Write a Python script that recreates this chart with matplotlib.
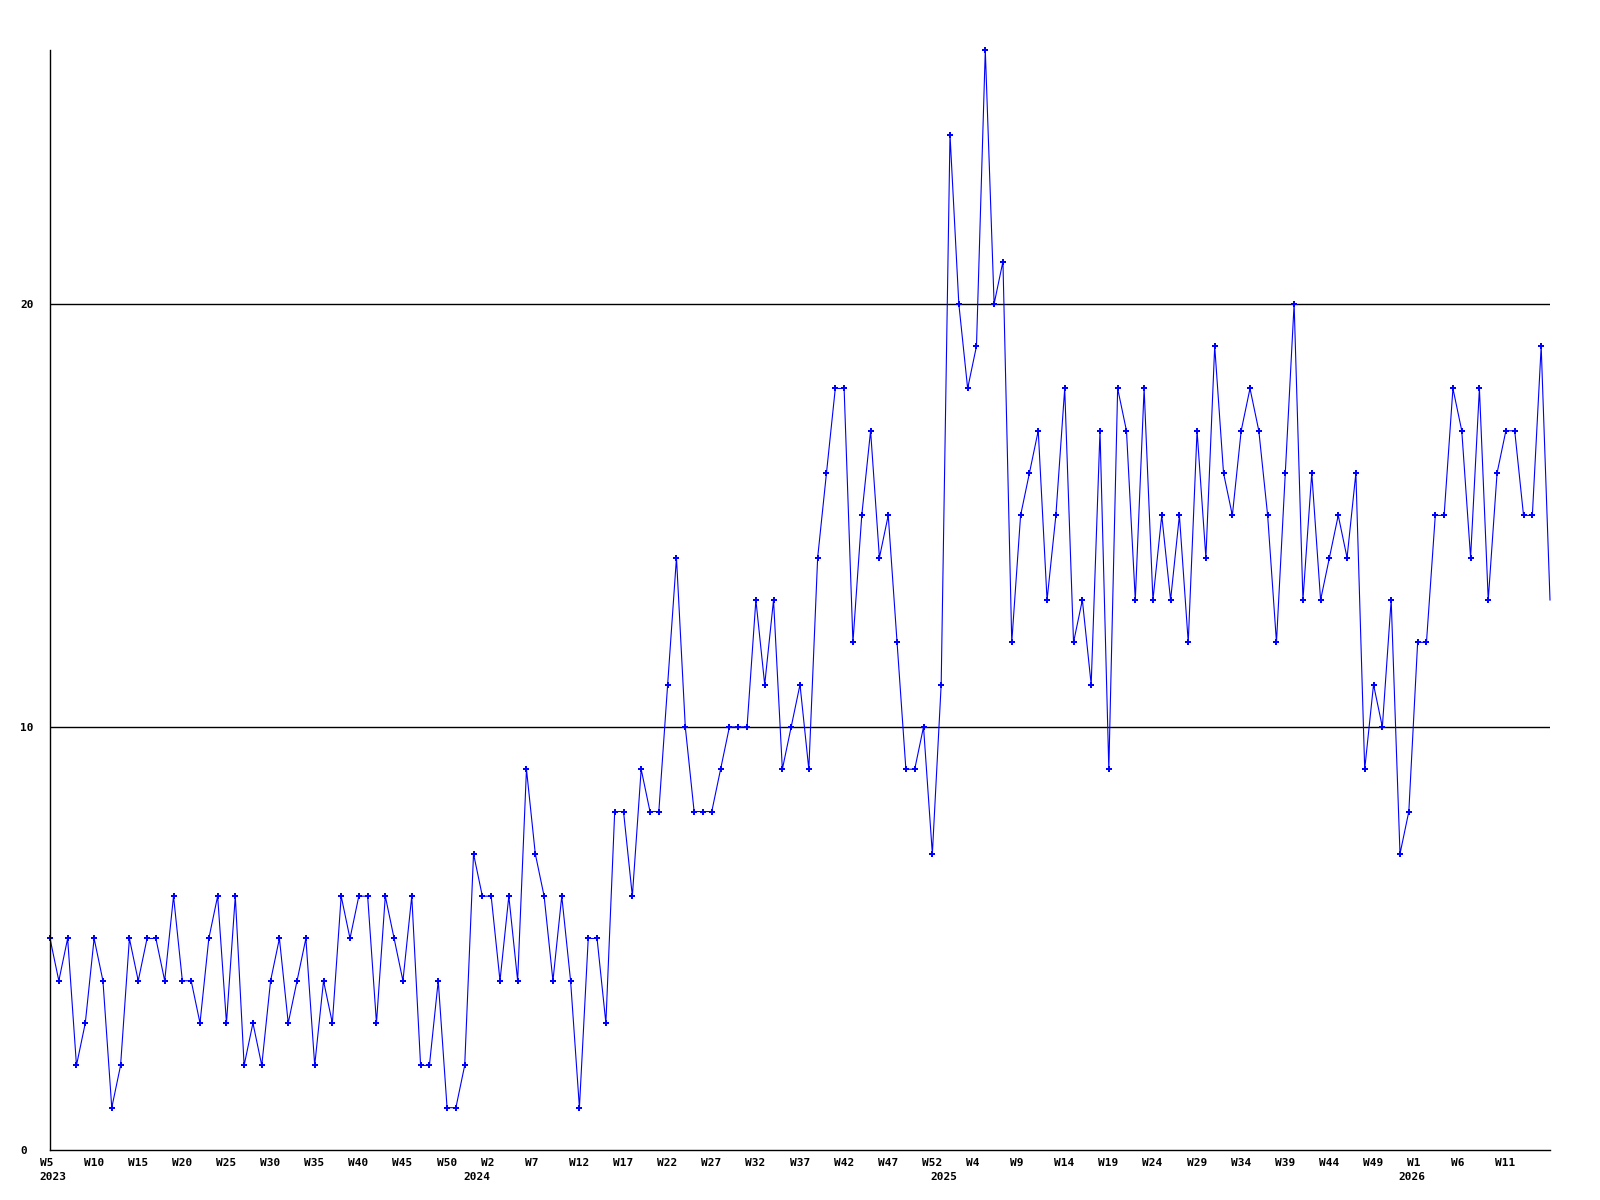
import matplotlib.pyplot as plt
import matplotlib.transforms as mtransforms

# weekly counts, 2023 W5 .. 2026 W16
values = [
    5, 4, 5, 2, 3, 5, 4, 1, 2, 5, 4, 5, 5, 4, 6, 4, 4, 3, 5, 6, 3, 6, 2, 3, 2, 4, 5, 3, 4, 5, 2, 4,
    3, 6, 5, 6, 6, 3, 6, 5, 4, 6, 2, 2, 4, 1, 1, 2, 7, 6, 6, 4, 6, 4, 9, 7, 6, 4, 6, 4, 1, 5, 5,
    3, 8, 8, 6, 9, 8, 8, 11, 14, 10, 8, 8, 8, 9, 10, 10, 10, 13, 11, 13, 9, 10, 11, 9, 14,
    16, 18,
    18, 12, 15, 17, 14, 15, 12, 9, 9, 10, 7, 11, 24, 20, 18, 19, 26, 20, 21, 12, 15, 16, 17, 13,
    15, 18, 12, 13, 11, 17,
    9, 18, 17, 13, 18, 13, 15, 13, 15, 12, 17, 14, 19, 16, 15, 17, 18, 17, 15, 12, 16, 20, 13,
    16, 13, 14, 15, 14, 16,
    9, 11, 10, 13, 7, 8, 12, 12, 15, 15, 18, 17, 14, 18, 13, 16, 17, 17, 15, 15, 19, 13,
]

week_labels = ['W5', 'W10', 'W15', 'W20', 'W25', 'W30', 'W35', 'W40', 'W45', 'W50',
               'W2', 'W7', 'W12', 'W17', 'W22', 'W27', 'W32', 'W37', 'W42', 'W47',
               'W52', 'W4', 'W9', 'W14', 'W19', 'W24', 'W29', 'W34', 'W39', 'W44',
               'W49', 'W1', 'W6', 'W11']
years = ['2023', '2024', '2025', '2026']
year_pos = [0, 48, 101, 154]

x = list(range(len(values)))
font = dict(family='DejaVu Sans Mono', weight='bold', size=8)

fig = plt.figure(figsize=(16, 12), dpi=100)
ax = fig.add_axes([50 / 1600, 50 / 1200, 1500 / 1600, 1100 / 1200])

ax.plot(x, values, color='#0000ff', linewidth=0.8, marker='P', markersize=4,
        markeredgewidth=0, markevery=slice(0, len(values) - 1), clip_on=False)

ax.set_xlim(0, len(values) - 1)
ax.set_ylim(0, 26)

for v in [10, 20]:
    ax.axhline(v, color='black', linewidth=1, zorder=0)

for s in ['top', 'right']:
    ax.spines[s].set_visible(False)
ax.spines['left'].set_linewidth(1)
ax.spines['bottom'].set_linewidth(1)

ax.set_yticks([0, 10, 20])
ax.set_yticklabels(['0', '10', '20'], **font)
ax.tick_params(axis='y', length=0, pad=21.5)
for lab in ax.get_yticklabels():
    lab.set_horizontalalignment('left')

ax.set_xticks(list(range(0, 5 * len(week_labels), 5)))
ax.set_xticklabels(week_labels, **font)
ax.tick_params(axis='x', length=0, pad=6)
shift = mtransforms.ScaledTranslation(-10.5 / 100, 0, fig.dpi_scale_trans)
for lab in ax.get_xticklabels():
    lab.set_horizontalalignment('left')
    lab.set_transform(lab.get_transform() + shift)

trans = mtransforms.blended_transform_factory(ax.transData, fig.transFigure)
for yr, p in zip(years, year_pos):
    ax.text(p, 1 - 1176.5 / 1200, yr, transform=trans + shift, ha='left', va='center', **font)

fig.savefig('out.png', dpi=100)
